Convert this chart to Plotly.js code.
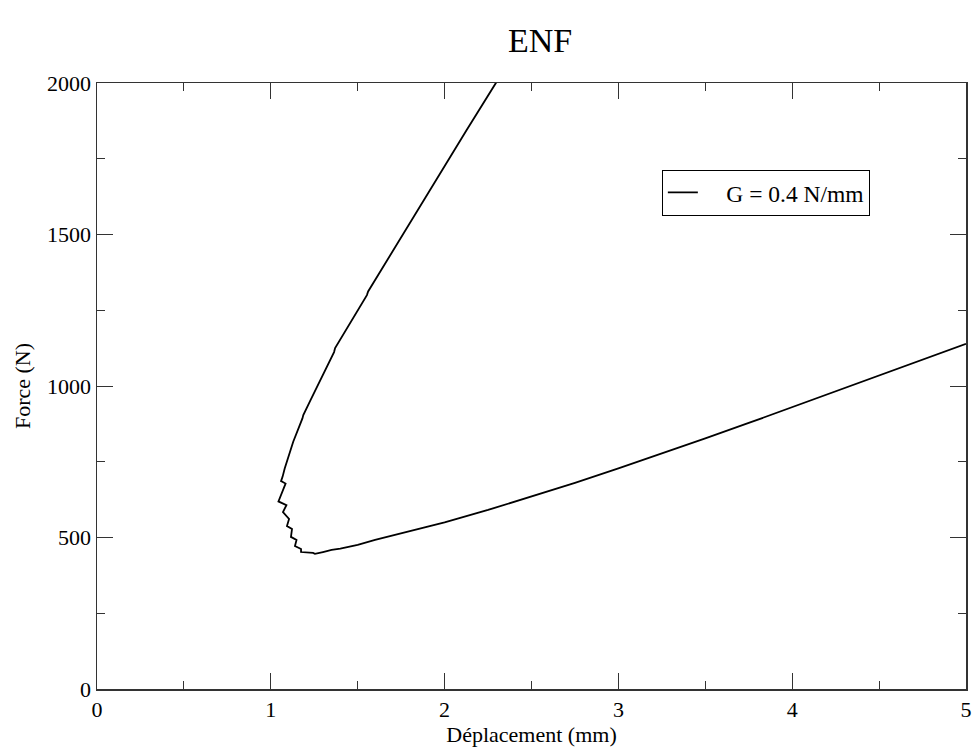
<!DOCTYPE html>
<html>
<head>
<meta charset="utf-8">
<script src="https://cdn.plot.ly/plotly-3.0.1.min.js"></script>
<style>html,body{margin:0;padding:0;background:#fff;}#chart{width:973px;height:749px;}</style>
</head>
<body>
<div id="chart"></div>
<script>
// Displacement (mm), from the top of the upper branch, through the sawtooth, along the lower branch
const displacement = [
  2.34, 2.296, 2.127, 1.974, 1.858, 1.75, 1.667, 1.560, 1.553, 1.45, 1.37, 1.364, 1.283,
  1.230, 1.187, 1.182, 1.129, 1.110, 1.091, 1.080, 1.068,
  1.059, 1.085, 1.044, 1.090, 1.070, 1.105, 1.093, 1.122, 1.116, 1.148, 1.139, 1.174,
  1.174, 1.243, 1.254,
  1.30, 1.35, 1.40, 1.50, 1.60, 1.75, 2.00, 2.25, 2.50, 2.75, 3.00, 3.25, 3.50, 3.75,
  4.00, 4.25, 4.50, 4.75, 5.00
];
// Force (N)
const force = [
  2050, 2001, 1845, 1702, 1592, 1490, 1413, 1312, 1300, 1203, 1125, 1112, 1020,
  955, 904, 893, 816, 784, 750, 728, 701,
  686, 678, 619, 607, 584, 561, 538, 528, 502, 492, 472, 462,
  452, 449, 446,
  452, 459, 463, 476, 492, 514, 550, 591, 635, 680, 728, 777, 827, 878,
  930, 982, 1034, 1086, 1139
];
const seriesName = "G = 0.4 N/mm";
const xTicks = [0, 1, 2, 3, 4, 5];
const yTicks = [0, 500, 1000, 1500, 2000];

const serif = "Liberation Serif, Times New Roman, serif";
const nb = "\u00a0";

Plotly.newPlot("chart", [{
  x: displacement,
  y: force,
  type: "scatter",
  mode: "lines",
  name: nb + nb + nb + nb + seriesName,
  line: {color: "#000", width: 1.8},
  showlegend: true
}], {
  width: 973,
  height: 749,
  margin: {l: 97, r: 7, t: 83, b: 60},
  paper_bgcolor: "#fff",
  plot_bgcolor: "#fff",
  font: {family: serif, color: "#000", size: 22},
  title: {text: "ENF", font: {family: serif, size: 34, color: "#000"}, x: 0.555, xanchor: "center", y: 0.947, yanchor: "middle"},
  xaxis: {
    range: [0, 5], tickvals: xTicks, ticktext: xTicks.map(String),
    ticks: "inside", ticklen: 16, tickwidth: 1, tickcolor: "#333",
    minor: {dtick: 0.5, ticks: "inside", ticklen: 8, tickwidth: 1, tickcolor: "#333"},
    showline: true, linecolor: "#333", linewidth: 1.5, mirror: "ticks",
    showgrid: false, zeroline: false,
    tickfont: {family: serif, size: 22, color: "#000"},
    title: {text: "Déplacement (mm)", font: {family: serif, size: 22, color: "#000"}, standoff: 2}
  },
  yaxis: {
    range: [0, 2000], tickvals: yTicks, ticktext: yTicks.map(String),
    ticks: "inside", ticklen: 16, tickwidth: 1, tickcolor: "#333",
    minor: {dtick: 250, ticks: "inside", ticklen: 8, tickwidth: 1, tickcolor: "#333"},
    showline: true, linecolor: "#333", linewidth: 1.5, mirror: "ticks",
    showgrid: false, zeroline: false,
    tickfont: {family: serif, size: 22, color: "#000"},
    title: {text: "Force (N)", font: {family: serif, size: 22, color: "#000"}, standoff: 10}
  },
  legend: {
    x: 0.65, y: 0.857, xanchor: "left", yanchor: "top",
    bordercolor: "#000", borderwidth: 1, bgcolor: "#fff",
    font: {family: serif, size: 23.5, color: "#000"},
    itemwidth: 30
  }
}, {displayModeBar: false, staticPlot: true});
</script>
</body>
</html>
